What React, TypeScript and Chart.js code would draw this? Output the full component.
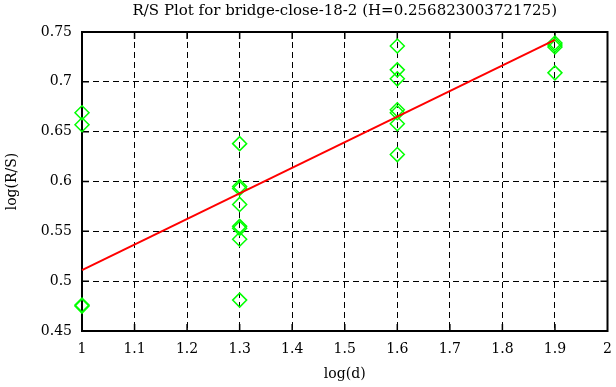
import { useEffect, useRef } from "react";
import { Chart, registerables } from "chart.js";

Chart.register(...registerables);

const TITLE = "R/S Plot for bridge-close-18-2 (H=0.256823003721725)";
const X_LABEL = "log(d)";
const Y_LABEL = "log(R/S)";

const logD = [
  1, 1, 1, 1,
  1.3, 1.3, 1.3, 1.3, 1.3, 1.3, 1.3, 1.3,
  1.6, 1.6, 1.6, 1.6, 1.6, 1.6, 1.6,
  1.9, 1.9, 1.9, 1.9,
];
const logRS = [
  0.669, 0.657, 0.476, 0.475,
  0.638, 0.595, 0.593, 0.577, 0.555, 0.553, 0.542, 0.481,
  0.736, 0.712, 0.703, 0.672, 0.669, 0.658, 0.627,
  0.739, 0.737, 0.735, 0.709,
];
const fitX = [1, 1.9];
const fitY = [0.511, 0.742];

const xTicks = [1, 1.1, 1.2, 1.3, 1.4, 1.5, 1.6, 1.7, 1.8, 1.9, 2];
const yTicks = [0.45, 0.5, 0.55, 0.6, 0.65, 0.7, 0.75];

const FONT = "'DejaVu Serif', 'Liberation Serif', serif";

const framePlugin = {
  id: "gnuFrame",
  beforeDatasetsDraw(chart: any) {
    const { ctx, chartArea, scales } = chart;
    const { left, right, top, bottom } = chartArea;
    ctx.save();
    ctx.strokeStyle = "#000";
    ctx.lineWidth = 2;
    ctx.setLineDash([]);
    ctx.strokeRect(left, top, right - left, bottom - top);
    ctx.lineWidth = 1.5;
    ctx.beginPath();
    for (const v of xTicks.slice(1, -1)) {
      const px = scales.x.getPixelForValue(v);
      ctx.moveTo(px, bottom);
      ctx.lineTo(px, bottom - 7);
      ctx.moveTo(px, top);
      ctx.lineTo(px, top + 7);
    }
    for (const v of yTicks.slice(1, -1)) {
      const py = scales.y.getPixelForValue(v);
      ctx.moveTo(left, py);
      ctx.lineTo(left + 7, py);
      ctx.moveTo(right, py);
      ctx.lineTo(right - 7, py);
    }
    ctx.stroke();
    ctx.restore();
  },
  afterDraw(chart: any) {
    const { ctx, chartArea } = chart;
    ctx.save();
    ctx.fillStyle = "#000";
    ctx.font = `15px ${FONT}`;
    ctx.textAlign = "center";
    ctx.textBaseline = "middle";
    ctx.fillText(TITLE, (chartArea.left + chartArea.right) / 2, 11);
    ctx.restore();
  },
};

const fmt = (v: number) => String(Number(Number(v).toFixed(2)));

export default function App() {
  const ref = useRef<HTMLCanvasElement | null>(null);

  useEffect(() => {
    if (!ref.current) return;
    const points = logD.map((x, i) => ({ x, y: logRS[i] }));
    const fit = fitX.map((x, i) => ({ x, y: fitY[i] }));
    const chart = new Chart(ref.current, {
      type: "scatter",
      data: {
        datasets: [
          {
            type: "line",
            label: "fit",
            data: fit,
            borderColor: "#ff0000",
            borderWidth: 2,
            pointRadius: 0,
            fill: false,
            order: 0,
            clip: false,
          } as any,
          {
            label: "R/S",
            data: points,
            pointStyle: "rectRot",
            pointRadius: 7,
            pointBorderWidth: 1.5,
            borderColor: "#00ff00",
            backgroundColor: "rgba(0,0,0,0)",
            showLine: false,
            order: 1,
            clip: false,
          } as any,
        ],
      },
      options: {
        responsive: false,
        animation: false,
        color: "#000",
        layout: { padding: { left: 0, right: 0, top: 32, bottom: 0 } },
        plugins: {
          legend: { display: false },
          title: { display: false },
          tooltip: { enabled: false },
        },
        scales: {
          x: {
            type: "linear",
            min: 1,
            max: 2,
            afterBuildTicks: (s: any) => {
              s.ticks = xTicks.map((v) => ({ value: v }));
            },
            afterFit: (s: any) => {
              s.height = 56;
              s.paddingRight = 5.5;
            },
            grid: { color: "#000", lineWidth: 1, drawTicks: false },
            border: { display: true, color: "#000", width: 2, dash: [6, 4] },
            ticks: {
              color: "#000",
              padding: 10,
              font: { family: FONT, size: 14 },
              maxRotation: 0,
              callback: (v: any) => fmt(v),
            },
            title: {
              display: true,
              text: X_LABEL,
              color: "#000",
              font: { family: FONT, size: 14 },
              padding: { top: 0, bottom: 4 },
            },
          },
          y: {
            type: "linear",
            min: 0.45,
            max: 0.75,
            afterBuildTicks: (s: any) => {
              s.ticks = yTicks.map((v) => ({ value: v }));
            },
            afterFit: (s: any) => {
              s.width = 82;
            },
            grid: { color: "#000", lineWidth: 1, drawTicks: false },
            border: { display: true, color: "#000", width: 2, dash: [6, 4] },
            ticks: {
              color: "#000",
              padding: 10,
              font: { family: FONT, size: 14 },
              callback: (v: any) => fmt(v),
            },
            title: {
              display: true,
              text: Y_LABEL,
              color: "#000",
              font: { family: FONT, size: 14 },
              padding: { top: 4, bottom: 0 },
            },
          },
        },
      },
      plugins: [framePlugin],
    });
    return () => chart.destroy();
  }, []);

  return (
    <div style={{ position: "absolute", left: 0, top: 0, width: 616, height: 387, background: "#fff" }}>
      <canvas ref={ref} width={616} height={387} style={{ display: "block" }} />
    </div>
  );
}
